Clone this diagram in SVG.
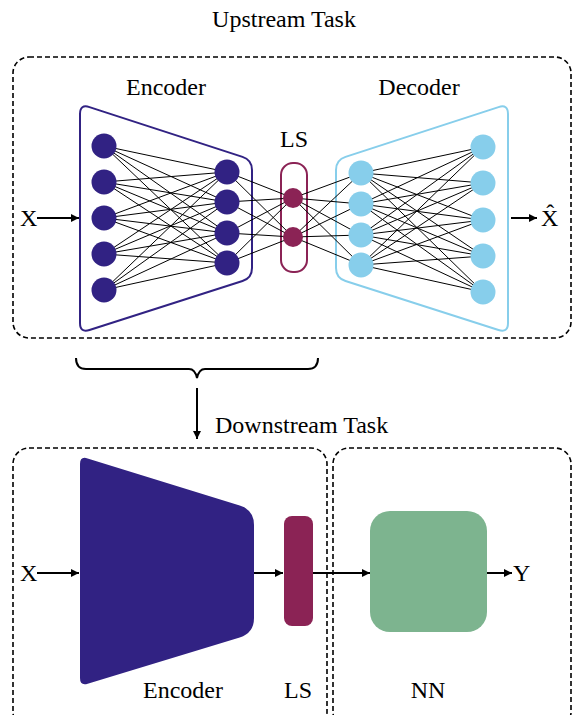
<svg xmlns="http://www.w3.org/2000/svg" width="573" height="715" viewBox="0 0 573 715" font-family="'Liberation Serif', 'Times New Roman', 'DejaVu Serif', serif">
  <defs>
    <marker id="arrow" viewBox="0 0 10 10" refX="10" refY="5" markerWidth="8" markerHeight="8" markerUnits="userSpaceOnUse" orient="auto">
      <path d="M0,0 L10,5 L0,10 Z" fill="#000"/>
    </marker>
    <style>
      .lbl { font-family: 'Liberation Serif', 'Times New Roman', 'DejaVu Serif', serif; font-size: 24px; fill: #000; }
      .frame { fill: none; stroke: #000; stroke-width: 1.6; stroke-dasharray: 5 3; }
      .wire { stroke: #000; stroke-width: 1; }
      .flow { stroke: #000; stroke-width: 2; fill: none; marker-end: url(#arrow); }
      .enc { fill: #312283; }
      .ls { fill: #8b2355; }
      .dec { fill: #87ceeb; }
    </style>
  </defs>

  <!-- upstream task: autoencoder -->
  <text class="lbl" x="284" y="27" text-anchor="middle">Upstream Task</text>
  <rect id="upstream-frame" class="frame" x="13" y="57" width="558" height="281" rx="16"/>

  <g id="encoder-block">
    <path d="M80,114 Q80,104 89.5,107.1 L242.5,156.9 Q252,160 252,170 L252,268 Q252,278 242.5,281 L89.5,330 Q80,333 80,323 Z" fill="none" stroke="#312283" stroke-width="2"/>
    <text class="lbl" x="166" y="95" text-anchor="middle">Encoder</text>
  </g>
  <g id="decoder-block">
    <path d="M508,114 Q508,104 498.5,107.1 L345.5,156.9 Q336,160 336,170 L336,268 Q336,278 345.5,281 L498.5,330 Q508,333 508,323 Z" fill="none" stroke="#87ceeb" stroke-width="2"/>
    <text class="lbl" x="419" y="95" text-anchor="middle">Decoder</text>
  </g>
  <g id="latent-block">
    <rect x="281" y="163" width="26" height="109" rx="12" fill="none" stroke="#8b2355" stroke-width="2"/>
    <text class="lbl" x="294" y="147" text-anchor="middle">LS</text>
  </g>

  <g id="connectors">
    <!-- encoder layer 1 to layer 2 -->
    <g class="wire">
      <line x1="104" y1="146" x2="227" y2="172"/><line x1="104" y1="146" x2="227" y2="202"/><line x1="104" y1="146" x2="227" y2="233"/><line x1="104" y1="146" x2="227" y2="263"/>
      <line x1="104" y1="182" x2="227" y2="172"/><line x1="104" y1="182" x2="227" y2="202"/><line x1="104" y1="182" x2="227" y2="233"/><line x1="104" y1="182" x2="227" y2="263"/>
      <line x1="104" y1="218" x2="227" y2="172"/><line x1="104" y1="218" x2="227" y2="202"/><line x1="104" y1="218" x2="227" y2="233"/><line x1="104" y1="218" x2="227" y2="263"/>
      <line x1="104" y1="254" x2="227" y2="172"/><line x1="104" y1="254" x2="227" y2="202"/><line x1="104" y1="254" x2="227" y2="233"/><line x1="104" y1="254" x2="227" y2="263"/>
      <line x1="104" y1="290" x2="227" y2="172"/><line x1="104" y1="290" x2="227" y2="202"/><line x1="104" y1="290" x2="227" y2="233"/><line x1="104" y1="290" x2="227" y2="263"/>
      <!-- encoder layer 2 to latent -->
      <line x1="227" y1="172" x2="293" y2="198"/><line x1="227" y1="172" x2="293" y2="237"/>
      <line x1="227" y1="202" x2="293" y2="198"/><line x1="227" y1="202" x2="293" y2="237"/>
      <line x1="227" y1="233" x2="293" y2="198"/><line x1="227" y1="233" x2="293" y2="237"/>
      <line x1="227" y1="263" x2="293" y2="198"/><line x1="227" y1="263" x2="293" y2="237"/>
      <!-- latent to decoder layer 1 -->
      <line x1="293" y1="198" x2="361" y2="173"/><line x1="293" y1="198" x2="361" y2="204"/><line x1="293" y1="198" x2="361" y2="235"/><line x1="293" y1="198" x2="361" y2="265"/>
      <line x1="293" y1="237" x2="361" y2="173"/><line x1="293" y1="237" x2="361" y2="204"/><line x1="293" y1="237" x2="361" y2="235"/><line x1="293" y1="237" x2="361" y2="265"/>
      <!-- decoder layer 1 to layer 2 -->
      <line x1="361" y1="173" x2="483" y2="147"/><line x1="361" y1="173" x2="483" y2="183"/><line x1="361" y1="173" x2="483" y2="220"/><line x1="361" y1="173" x2="483" y2="256"/><line x1="361" y1="173" x2="483" y2="292"/>
      <line x1="361" y1="204" x2="483" y2="147"/><line x1="361" y1="204" x2="483" y2="183"/><line x1="361" y1="204" x2="483" y2="220"/><line x1="361" y1="204" x2="483" y2="256"/><line x1="361" y1="204" x2="483" y2="292"/>
      <line x1="361" y1="235" x2="483" y2="147"/><line x1="361" y1="235" x2="483" y2="183"/><line x1="361" y1="235" x2="483" y2="220"/><line x1="361" y1="235" x2="483" y2="256"/><line x1="361" y1="235" x2="483" y2="292"/>
      <line x1="361" y1="265" x2="483" y2="147"/><line x1="361" y1="265" x2="483" y2="183"/><line x1="361" y1="265" x2="483" y2="220"/><line x1="361" y1="265" x2="483" y2="256"/><line x1="361" y1="265" x2="483" y2="292"/>
    </g>
    <!-- data flow arrows -->
    <line class="flow" x1="37" y1="218" x2="79" y2="218"/>
    <line class="flow" x1="511" y1="218" x2="537" y2="218"/>
    <path d="M76,358 Q76,369 86,369 L189,369 Q195,369 197,378 Q199,369 205,369 L308,369 Q318,369 318,358" fill="none" stroke="#000" stroke-width="2"/>
    <line class="flow" x1="197" y1="388" x2="197" y2="439"/>
    <line class="flow" x1="37" y1="573" x2="79" y2="573"/>
    <line class="flow" x1="254" y1="573" x2="283" y2="573"/>
    <line class="flow" x1="313" y1="573" x2="370" y2="573"/>
    <line class="flow" x1="487" y1="573" x2="512" y2="573"/>
  </g>

  <g id="encoder-nodes" class="enc">
    <circle cx="104" cy="146" r="12.5"/><circle cx="104" cy="182" r="12.5"/><circle cx="104" cy="218" r="12.5"/><circle cx="104" cy="254" r="12.5"/><circle cx="104" cy="290" r="12.5"/>
    <circle cx="227" cy="172" r="12.5"/><circle cx="227" cy="202" r="12.5"/><circle cx="227" cy="233" r="12.5"/><circle cx="227" cy="263" r="12.5"/>
  </g>
  <g id="latent-nodes" class="ls">
    <circle cx="293" cy="198" r="10"/><circle cx="293" cy="237" r="10"/>
  </g>
  <g id="decoder-nodes" class="dec">
    <circle cx="361" cy="173" r="12.5"/><circle cx="361" cy="204" r="12.5"/><circle cx="361" cy="235" r="12.5"/><circle cx="361" cy="265" r="12.5"/>
    <circle cx="483" cy="147" r="12.5"/><circle cx="483" cy="183" r="12.5"/><circle cx="483" cy="220" r="12.5"/><circle cx="483" cy="256" r="12.5"/><circle cx="483" cy="292" r="12.5"/>
  </g>

  <g id="io-labels">
    <text class="lbl" x="20" y="226">X</text>
    <text class="lbl" x="541" y="226">X&#770;</text>
    <text class="lbl" x="20" y="581">X</text>
    <text class="lbl" x="513" y="581">Y</text>
  </g>

  <!-- downstream task -->
  <text class="lbl" x="215" y="433">Downstream Task</text>
  <rect id="downstream-encoder-frame" class="frame" x="13" y="448" width="314" height="280" rx="16"/>
  <rect id="downstream-nn-frame" class="frame" x="333" y="448" width="238" height="280" rx="16"/>

  <g id="downstream-encoder">
    <path d="M80,464 Q80,456 87.6,458.4 L239.7,505.6 Q254,510 254,525 L254,618 Q254,633 239.7,637.4 L87.7,683.7 Q80,686 80,678 Z" class="enc"/>
    <text class="lbl" x="183" y="698" text-anchor="middle">Encoder</text>
  </g>
  <g id="downstream-latent">
    <rect x="284" y="516" width="29" height="110" rx="8" class="ls"/>
    <text class="lbl" x="298" y="698" text-anchor="middle">LS</text>
  </g>
  <g id="downstream-nn">
    <rect x="370" y="511" width="117" height="121" rx="20" fill="#7db48f"/>
    <text class="lbl" x="428" y="698" text-anchor="middle">NN</text>
  </g>
</svg>
